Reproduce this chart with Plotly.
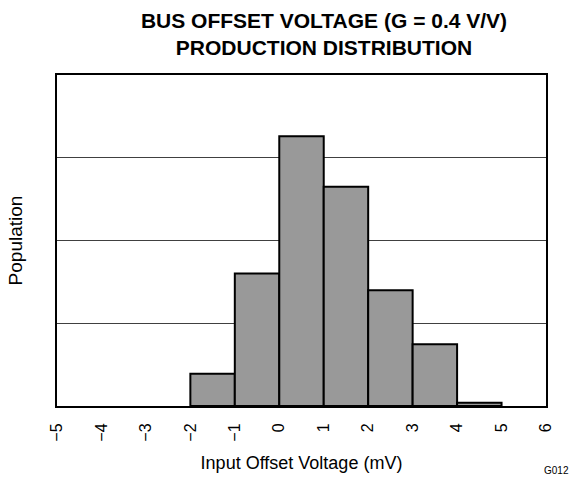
import plotly.graph_objects as go

bin_start = [-2, -1, 0, 1, 2, 3, 4]
population = [0.39, 1.60, 3.26, 2.65, 1.40, 0.745, 0.04]
tick_vals = [-5, -4, -3, -2, -1, 0, 1, 2, 3, 4, 5, 6]
tick_text = ["\u22125", "\u22124", "\u22123", "\u22122", "\u22121", "0", "1", "2", "3", "4", "5", "6"]

FONT = "Liberation Sans, Arial, sans-serif"
W, H = 577, 478
L, R, T, B = 57, 31, 75, 72
PW, PH = W - L - R, H - T - B

fig = go.Figure()
fig.add_trace(go.Bar(
    x=bin_start, y=population, width=1, offset=0,
    marker=dict(color="#999999", line=dict(color="black", width=2)),
))

fig.update_layout(
    width=W, height=H,
    margin=dict(l=L, r=R, t=T, b=B, pad=0, autoexpand=False),
    paper_bgcolor="white", plot_bgcolor="white",
    showlegend=False,
    font=dict(family=FONT, color="black"),
    title=dict(
        text="<b>BUS OFFSET VOLTAGE (G = 0.4 V/V)<br>PRODUCTION DISTRIBUTION</b>",
        x=324 / W, xanchor="center", y=1 - 28 / H, yanchor="middle",
        font=dict(size=21, family=FONT),
    ),
    xaxis=dict(
        range=[-5, 6], tickvals=tick_vals, ticktext=tick_text,
        tickangle=-90, tickfont=dict(size=16), ticks="", ticklabelstandoff=9,
        showgrid=False, zeroline=False, automargin=False,
        showline=True, linecolor="black", linewidth=2, mirror=True,
        title=dict(text="Input Offset Voltage (mV)", font=dict(size=18), standoff=16),
    ),
    yaxis=dict(
        range=[0, 4], dtick=1, showticklabels=False, ticks="",
        showgrid=True, gridcolor="#404040", gridwidth=1, zeroline=False,
        automargin=False,
        showline=True, linecolor="black", linewidth=2, mirror=True,
        title=dict(text="Population", font=dict(size=19), standoff=27),
    ),
    annotations=[dict(
        text="G012", x=(556 - L) / PW, y=(T + PH - 470) / PH, xref="paper", yref="paper",
        xanchor="center", yanchor="middle", showarrow=False,
        font=dict(size=10, family=FONT),
    )],
)

fig.write_html("out.html", config={"displayModeBar": False},
               post_script="document.body.style.margin='0';")
